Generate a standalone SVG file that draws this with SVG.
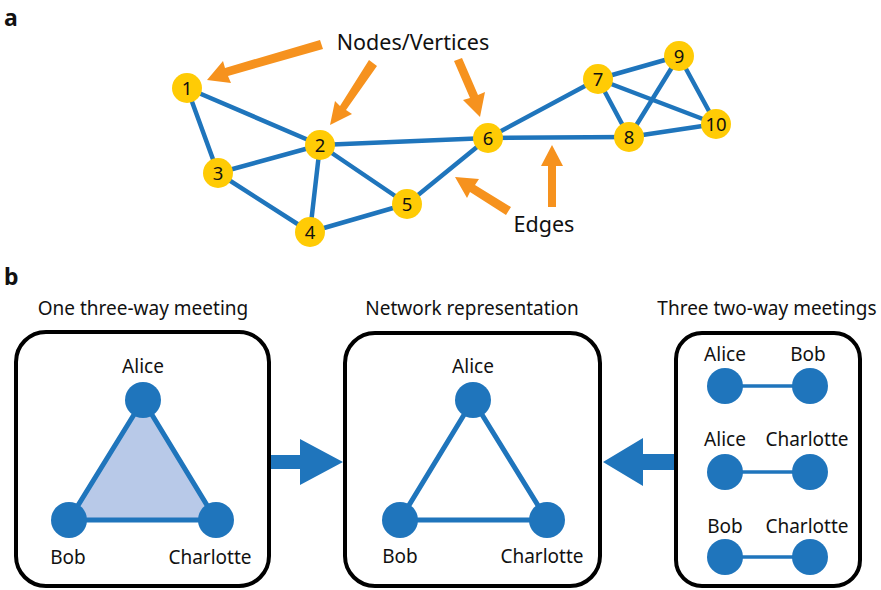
<svg xmlns="http://www.w3.org/2000/svg" width="881" height="590" viewBox="0 0 881 590">
  <style>
    text { font-family: "Noto Sans", "Liberation Sans", sans-serif; fill: #111; }
    .panel { font-weight: bold; font-size: 23px; }
    .lbl { font-size: 21.5px; text-anchor: middle; }
    .name { font-size: 19px; text-anchor: middle; }
    .num { font-size: 18.5px; text-anchor: middle; }
    .edge { stroke: #1f75bc; stroke-width: 4.5; stroke-linecap: round; fill: none; }
    .vertex { fill: #ffcb05; }
    .pointer { fill: #f6921e; }
    .box { fill: #fff; stroke: #000; stroke-width: 4; }
    .person { fill: #1f75bc; }
    .tie { stroke: #1f75bc; stroke-width: 5; fill: none; }
    .flow { fill: #1f75bc; }
  </style>

  <!-- panel labels -->
  <text class="panel" x="4" y="26">a</text>
  <text class="panel" x="4" y="285">b</text>

  <!-- ===== Panel a: example network ===== -->
  <g id="edges-a">
    <line class="edge" x1="187" y1="88" x2="320" y2="145"/>
    <line class="edge" x1="187" y1="88" x2="218" y2="173"/>
    <line class="edge" x1="218" y1="173" x2="320" y2="145"/>
    <line class="edge" x1="218" y1="173" x2="310" y2="232"/>
    <line class="edge" x1="320" y1="145" x2="310" y2="232"/>
    <line class="edge" x1="320" y1="145" x2="407" y2="204"/>
    <line class="edge" x1="320" y1="145" x2="488" y2="138"/>
    <line class="edge" x1="310" y1="232" x2="407" y2="204"/>
    <line class="edge" x1="407" y1="204" x2="488" y2="138"/>
    <line class="edge" x1="488" y1="138" x2="598" y2="79"/>
    <line class="edge" x1="488" y1="138" x2="629" y2="137"/>
    <line class="edge" x1="598" y1="79" x2="629" y2="137"/>
    <line class="edge" x1="598" y1="79" x2="679" y2="56"/>
    <line class="edge" x1="598" y1="79" x2="716" y2="124"/>
    <line class="edge" x1="629" y1="137" x2="679" y2="56"/>
    <line class="edge" x1="629" y1="137" x2="716" y2="124"/>
    <line class="edge" x1="679" y1="56" x2="716" y2="124"/>
  </g>

  <g id="v1"><circle class="vertex" cx="187" cy="88" r="15"/><text class="num" x="187" y="94.5">1</text></g>
  <g id="v2"><circle class="vertex" cx="320" cy="145" r="15"/><text class="num" x="320" y="151.5">2</text></g>
  <g id="v3"><circle class="vertex" cx="218" cy="173" r="15"/><text class="num" x="218" y="179.5">3</text></g>
  <g id="v4"><circle class="vertex" cx="310" cy="232" r="15"/><text class="num" x="310" y="238.5">4</text></g>
  <g id="v5"><circle class="vertex" cx="407" cy="204" r="15"/><text class="num" x="407" y="210.5">5</text></g>
  <g id="v6"><circle class="vertex" cx="488" cy="138" r="15"/><text class="num" x="488" y="144.5">6</text></g>
  <g id="v7"><circle class="vertex" cx="598" cy="79" r="15"/><text class="num" x="598" y="85.5">7</text></g>
  <g id="v8"><circle class="vertex" cx="629" cy="137" r="15"/><text class="num" x="629" y="143.5">8</text></g>
  <g id="v9"><circle class="vertex" cx="679" cy="56" r="15"/><text class="num" x="679" y="62.5">9</text></g>
  <g id="v10"><circle class="vertex" cx="716" cy="124" r="15"/><text class="num" x="716" y="130.5">10</text></g>

  <!-- annotation labels and orange pointers -->
  <g id="annotations">
    <text class="lbl" x="413" y="50">Nodes/Vertices</text>
    <text class="lbl" x="544" y="232">Edges</text>
    <path class="pointer" d="M207 80 L223 61 L225 68 L320 40 L323 49 L228 76 L231 83 Z"/>
    <path class="pointer" d="M330 125 L335 101 L340 106 L369 60 L377 66 L346 110 L352 114 Z"/>
    <path class="pointer" d="M480 117 L463 100 L470 98 L454 61 L462 58 L478 95 L485 92 Z"/>
    <path class="pointer" d="M455 177 L479 179 L475 185 L511 207 L506 215 L470 192 L467 198 Z"/>
    <path class="pointer" d="M552 145 L563 166 L556 166 L556 207 L548 207 L548 166 L541 166 Z"/>
  </g>

  <!-- ===== Panel b ===== -->
  <text class="name" x="143" y="315">One three-way meeting</text>
  <text class="name" x="472" y="315">Network representation</text>
  <text class="name" x="767" y="315">Three two-way meetings</text>

  <g id="connectors">
    <path class="flow" d="M269 455 L300 455 L300 439 L343 462 L300 485 L300 469 L269 469 Z"/>
    <path class="flow" d="M677 454 L643 454 L643 438 L603 462 L643 486 L643 470 L677 470 Z"/>
  </g>

  <g id="three-way">
    <rect class="box" x="16" y="332" width="253" height="254" rx="30"/>
    <polygon points="143,400 69,520 216,520" fill="#b8c9e8" stroke="#1f75bc" stroke-width="5" stroke-linejoin="round"/>
    <circle class="person" cx="143" cy="400" r="18"/>
    <circle class="person" cx="69" cy="520" r="18"/>
    <circle class="person" cx="216" cy="520" r="18"/>
    <text class="name" x="143" y="373">Alice</text>
    <text class="name" x="68" y="564">Bob</text>
    <text class="name" x="210" y="564">Charlotte</text>
  </g>

  <g id="network">
    <rect class="box" x="345" y="333" width="255" height="253" rx="30"/>
    <polygon class="tie" points="473,400 400,520 547,520" stroke-linejoin="round"/>
    <circle class="person" cx="473" cy="400" r="18"/>
    <circle class="person" cx="400" cy="520" r="18"/>
    <circle class="person" cx="547" cy="520" r="18"/>
    <text class="name" x="473" y="373">Alice</text>
    <text class="name" x="400" y="563">Bob</text>
    <text class="name" x="542" y="563">Charlotte</text>
  </g>

  <g id="two-way">
    <rect class="box" x="676" y="333" width="184" height="253" rx="26"/>
    <line x1="725" y1="386" x2="810" y2="386" stroke="#1f75bc" stroke-width="3.5"/>
    <circle class="person" cx="725" cy="386" r="18"/>
    <circle class="person" cx="810" cy="386" r="18"/>
    <text class="name" x="725" y="361">Alice</text>
    <text class="name" x="808" y="361">Bob</text>
    <line x1="725" y1="472" x2="810" y2="472" stroke="#1f75bc" stroke-width="3.5"/>
    <circle class="person" cx="725" cy="472" r="18"/>
    <circle class="person" cx="810" cy="472" r="18"/>
    <text class="name" x="725" y="446">Alice</text>
    <text class="name" x="807" y="446">Charlotte</text>
    <line x1="725" y1="557" x2="810" y2="557" stroke="#1f75bc" stroke-width="3.5"/>
    <circle class="person" cx="725" cy="557" r="18"/>
    <circle class="person" cx="810" cy="557" r="18"/>
    <text class="name" x="725" y="533">Bob</text>
    <text class="name" x="807" y="533">Charlotte</text>
  </g>
</svg>
